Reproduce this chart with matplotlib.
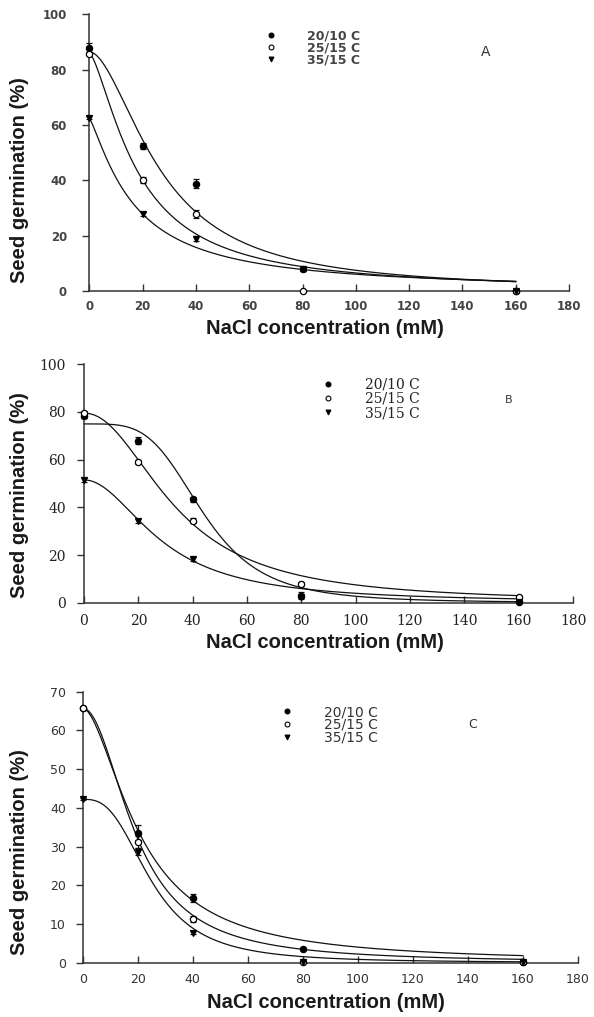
"""
Seed germination vs NaCl concentration at three temperature regimes (panels A, B, C).
Writes out.png.
"""

import numpy as np
import matplotlib.pyplot as plt
from matplotlib.lines import Line2D

W, H = 594, 1017

# ---- data -------------------------------------------------------------
conc = [0, 20, 40, 80, 160]
regimes = ["20/10 C", "25/15 C", "35/15 C"]

# panel A
a_2010 = [88.0, 52.4, 38.8, 7.8, 0.0]
a_2010_err = [1.5, 1.2, 1.5, 0.5, 0.3]
a_2515 = [85.8, 40.1, 27.8, 0.0, 0.0]
a_2515_err = [0.5, 1.0, 1.5, 0.0, 0.0]
a_3515 = [62.6, 27.8, 18.9, 7.8, 0.0]
a_3515_err = [0.5, 0.8, 0.8, 0.5, 0.0]

# panel B
b_2010 = [78.5, 68.0, 43.4, 3.0, 0.5]
b_2010_err = [1.0, 1.5, 1.0, 1.5, 0.5]
b_2515 = [79.5, 59.0, 34.4, 7.8, 2.5]
b_2515_err = [1.0, 0.8, 1.0, 1.0, 0.5]
b_3515 = [51.5, 34.4, 18.5, 2.5, 0.5]
b_3515_err = [0.8, 0.8, 0.8, 0.5, 0.3]

# panel C
c_2010 = [65.8, 33.6, 16.8, 3.5, 0.2]
c_2010_err = [0.3, 2.0, 1.0, 0.3, 0.0]
c_2515 = [65.7, 31.2, 11.2, 0.2, 0.2]
c_2515_err = [0.3, 1.5, 0.8, 0.0, 0.0]
c_3515 = [42.2, 28.7, 7.8, 0.2, 0.2]
c_3515_err = [0.3, 1.0, 0.5, 0.0, 0.0]

# fitted log-logistic curves: (Gmax, x50, slope) per regime
a_fit = [(86.5, 27.0, 1.8), (86.0, 18.25, 1.47), (62.4, 16.8, 1.25)]
b_fit = [(75.0, 44.0, 4.0), (79.5, 34.0, 2.1), (51.5, 28.8, 2.0)]
c_fit = [(65.8, 21.0, 1.75), (65.7, 19.5, 2.05), (42.2, 25.0, 2.8)]


def loglogistic(x, gmax, x50, b):
    return gmax / (1 + (x / x50) ** b)


def fx(px):
    return px / W


def fy(py):
    return 1 - py / H


fig = plt.figure(figsize=(W / 100, H / 100), dpi=100)

label_font = dict(family="Liberation Sans", weight="bold", size=14.5, color="#1a1a1a")

panels = [
    dict(letter="A", data=[a_2010, a_2515, a_3515], errs=[a_2010_err, a_2515_err, a_3515_err],
         fit=a_fit, rect=(89.3, 569, 14.3, 291), ymax=100, ystep=20,
         tick=dict(family="DejaVu Sans", weight="bold", size=8.5, color="#444444"),
         ypad=11, xpad=6.8,
         leg=dict(family="DejaVu Sans", weight="bold", size=9), legcol="#444444",
         leg_marker=270.7, leg_text=306.7, leg_y=48.3, leg_pitch=13.5,
         letter_pos=(486, 52), letter_size=10,
         ylab=(20, 180), xlab=(325, 328)),
    dict(letter="B", data=[b_2010, b_2515, b_3515], errs=[b_2010_err, b_2515_err, b_3515_err],
         fit=b_fit, rect=(84, 573, 364.3, 602.7), ymax=100, ystep=20,
         tick=dict(family="DejaVu Serif", size=10, color="#222222"),
         ypad=8, xpad=8.2,
         leg=dict(family="DejaVu Serif", size=10), legcol="#222222",
         leg_marker=327.7, leg_text=365, leg_y=399, leg_pitch=16.2,
         letter_pos=(509, 400), letter_size=8,
         ylab=(20, 495), xlab=(325, 642)),
    dict(letter="C", data=[c_2010, c_2515, c_3515], errs=[c_2010_err, c_2515_err, c_3515_err],
         fit=c_fit, rect=(82.7, 578, 691.7, 962.7), ymax=70, ystep=10,
         tick=dict(family="DejaVu Sans", size=9, color="#333333"),
         ypad=7.2, xpad=7.6,
         leg=dict(family="DejaVu Sans", size=10), legcol="#333333",
         leg_marker=286.7, leg_text=324, leg_y=725, leg_pitch=15,
         letter_pos=(473, 725), letter_size=9,
         ylab=(20, 852), xlab=(326, 1003)),
]

marker_styles = [
    dict(marker="o", mfc="black", mec="black"),
    dict(marker="o", mfc="white", mec="black"),
    dict(marker="v", mfc="black", mec="black"),
]

xs = np.linspace(0, 160, 400)

for p in panels:
    l, r, t, b = p["rect"]
    ax = fig.add_axes([fx(l), fy(b), (r - l) / W, (b - t) / H])

    # fitted curves
    for gmax, x50, slope in p["fit"]:
        ax.plot(xs, loglogistic(xs, gmax, x50, slope), color="#111111", lw=0.9,
                clip_on=False, zorder=2)

    # observed means with error bars
    for vals, errs, st in zip(p["data"], p["errs"], marker_styles):
        ax.errorbar(conc, vals, yerr=errs, fmt="none", ecolor="#111111",
                    elinewidth=0.9, capsize=2.5, capthick=0.9, clip_on=False, zorder=3)
        ax.plot(conc, vals, linestyle="none", ms=4.5, mew=0.9, clip_on=False,
                zorder=4, **st)

    ax.set_xlim(0, 180)
    ax.set_ylim(0, p["ymax"])
    ax.set_xticks(range(0, 181, 20))
    ax.set_yticks(range(0, p["ymax"] + 1, p["ystep"]))
    for s in ["top", "right"]:
        ax.spines[s].set_visible(False)
    for s in ["left", "bottom"]:
        ax.spines[s].set_linewidth(1.1)
        ax.spines[s].set_color("#333333")
    ax.tick_params(axis="y", direction="out", length=5, width=1.0, color="#333333",
                   pad=p["ypad"])
    ax.tick_params(axis="x", direction="in", length=5, width=1.0, color="#333333",
                   pad=p["xpad"])
    tick = p["tick"]
    for lab in ax.get_xticklabels() + ax.get_yticklabels():
        lab.set_fontfamily(tick["family"])
        lab.set_fontsize(tick["size"])
        lab.set_color(tick["color"])
        lab.set_fontweight(tick.get("weight", "normal"))

    # legend
    fs_px = p["leg"]["size"] * 100 / 72
    left = p["leg_marker"] - fs_px / 2
    handles = [Line2D([], [], linestyle="none", ms=3.5, mew=0.8, **st) for st in marker_styles]
    text_h = fs_px * 1.164
    leg = ax.legend(handles, regimes, loc="center left",
                    bbox_to_anchor=(fx(left), fy(p["leg_y"])),
                    bbox_transform=fig.transFigure, frameon=False,
                    borderpad=0, borderaxespad=0, handlelength=1.0,
                    handletextpad=(p["leg_text"] - left - fs_px) / fs_px,
                    labelspacing=(p["leg_pitch"] - text_h) / fs_px,
                    prop=p["leg"])
    for txt in leg.get_texts():
        txt.set_color(p["legcol"])

    fig.text(fx(p["letter_pos"][0]), fy(p["letter_pos"][1]), p["letter"],
             family="DejaVu Sans", size=p["letter_size"], color="#333333",
             ha="center", va="center")

    fig.text(fx(p["ylab"][0]), fy(p["ylab"][1]), "Seed germination (%)", rotation=90,
             ha="center", va="center", **label_font)
    fig.text(fx(p["xlab"][0]), fy(p["xlab"][1]), "NaCl concentration (mM)",
             ha="center", va="center", **label_font)

fig.savefig("out.png", dpi=100)
